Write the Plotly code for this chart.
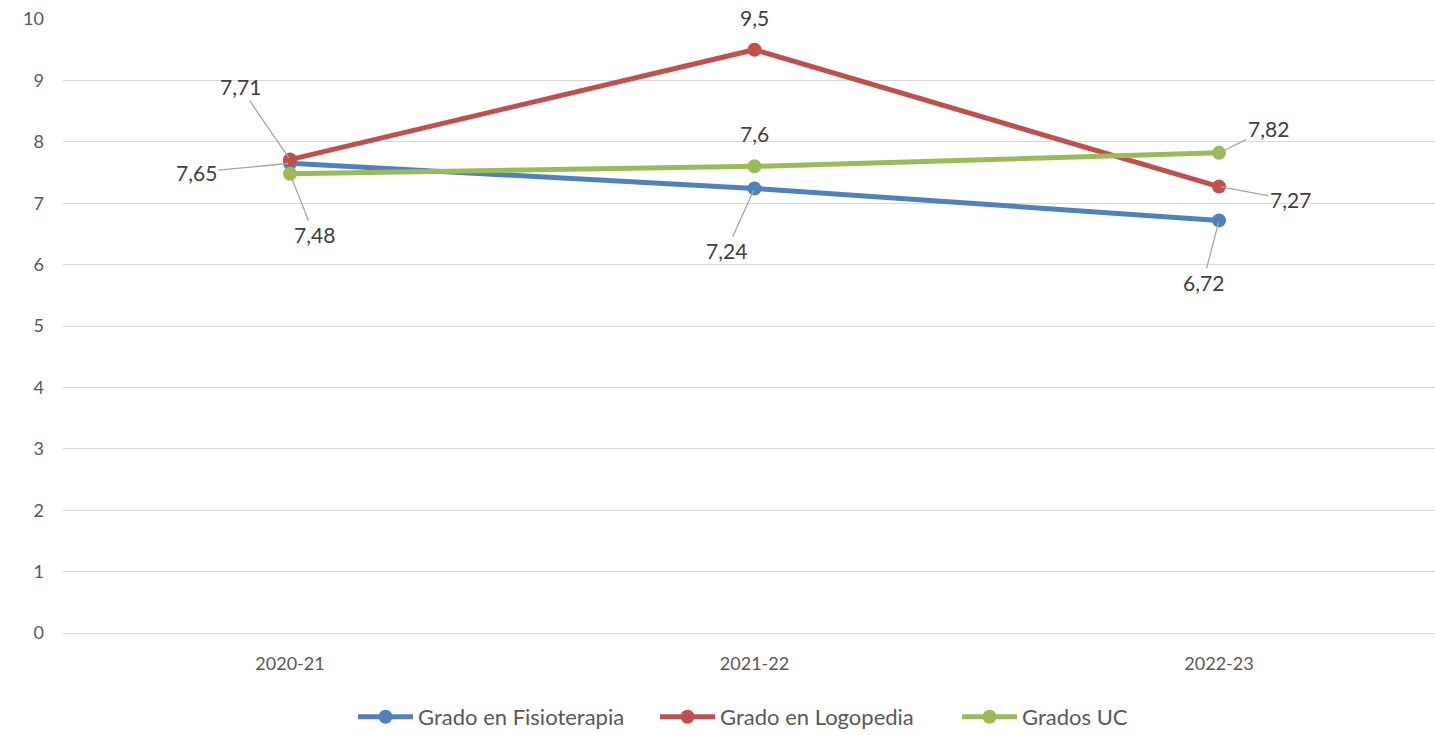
import plotly.graph_objects as go

categories = ["2020-21", "2021-22", "2022-23"]
series_names = ["Grado en Fisioterapia", "Grado en Logopedia", "Grados UC"]
fisioterapia = [7.65, 7.24, 6.72]
logopedia = [7.71, 9.5, 7.27]
grados_uc = [7.48, 7.6, 7.82]
y_ticks = [0, 1, 2, 3, 4, 5, 6, 7, 8, 9, 10]

colors = ["#4F81BD", "#C0504D", "#9BBB59"]
values = [fisioterapia, logopedia, grados_uc]

# label offsets (pixels) per series per point: (ax, ay, leader)
label_offsets = [
    [(-94, 9, True), (-28, 62, True), (-16, 62, True)],
    [(-50, -73, True), (0, -32, False), (71, 13, True)],
    [(24, 61, True), (0, -33, False), (49, -24, True)],
]

font_family = "Lato, 'Open Sans', sans-serif"
text_color = "#595959"

fig = go.Figure()
for name, vals, col in zip(series_names, values, colors):
    fig.add_trace(go.Scatter(
        x=categories, y=vals, name=name, mode="lines+markers",
        line=dict(color=col, width=5),
        marker=dict(color=col, size=14),
    ))

annotations = []
for s, vals in enumerate(values):
    for i, v in enumerate(vals):
        ax, ay, leader = label_offsets[s][i]
        txt = f"{v:g}".replace(".", ",")
        if leader:
            annotations.append(dict(
                x=categories[i], y=v, xref="x", yref="y", text=txt,
                showarrow=True, arrowhead=0, arrowwidth=1.3, arrowcolor="#A6A6A6",
                ax=ax, ay=ay, standoff=2,
                font=dict(size=21, color="#404040", family=font_family),
            ))
        else:
            annotations.append(dict(
                x=categories[i], y=v, xref="x", yref="y", text=txt,
                showarrow=False, yshift=-ay,
                font=dict(size=21, color="#404040", family=font_family),
            ))

fig.update_layout(
    width=1435, height=735,
    margin=dict(l=63, r=0, t=19, b=102, autoexpand=False),
    paper_bgcolor="white", plot_bgcolor="white",
    font=dict(family=font_family, size=18, color=text_color),
    showlegend=True,
    legend=dict(orientation="h", xref="container", yref="container",
                x=0.5617, xanchor="center", y=0.0245, yanchor="middle",
                font=dict(size=22, color=text_color), itemwidth=55, tracegroupgap=0,
                entrywidth=232, entrywidthmode="pixels"),
    annotations=annotations,
    xaxis=dict(type="category", range=[-0.4887, 2.465], showgrid=False, automargin=False,
               showline=True, linecolor="#D9D9D9", linewidth=1,
               ticks="", ticklabelstandoff=14, tickfont=dict(size=18, color=text_color)),
    yaxis=dict(range=[0, 10], tickvals=y_ticks, showgrid=True, gridcolor="#D9D9D9", gridwidth=1,
               zeroline=False, showline=False, ticks="", ticklabelstandoff=18, automargin=False,
               ticklabeloverflow="allow", tickfont=dict(size=18, color=text_color)),
)

fig.write_html("out.html", config={"displayModeBar": False},
               post_script="document.body.style.margin='0';")
